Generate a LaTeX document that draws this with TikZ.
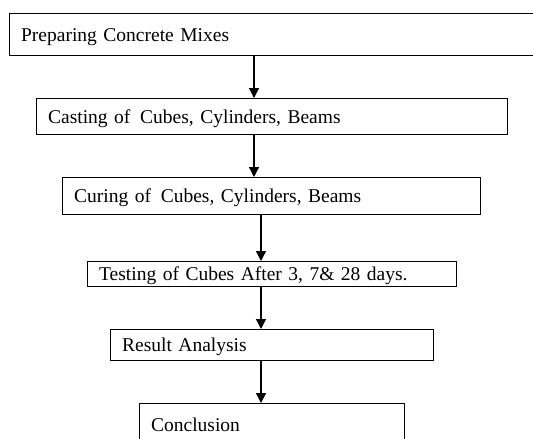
\documentclass[tikz,border=0pt]{standalone}
\usepackage{fontspec}
\setmainfont{Liberation Serif}
\usetikzlibrary{arrows.meta}
\begin{document}
\begin{tikzpicture}[x=1pt,y=-1pt,
  stepbox/.style={draw, line width=1.3pt, anchor=north west, inner xsep=11.5pt, inner ysep=0pt,
    align=left, font=\fontsize{19.5}{22}\selectfont, text height=15pt, text depth=2pt},
  arr/.style={line width=1.3pt, -{Triangle[length=10pt,width=10pt]}}]
\path[use as bounding box, clip] (0,0) rectangle (533,439);
\node[stepbox, minimum width=600pt, minimum height=42pt, text width=577pt] (b1) at (9,13) {Preparing Concrete Mixes};
\node[stepbox, minimum width=471pt, minimum height=36pt, text width=448pt] (b2) at (36,98) {Casting of\, Cubes, Cylinders, Beams};
\node[stepbox, minimum width=418pt, minimum height=37pt, text width=395pt] (b3) at (62,177) {Curing of\, Cubes, Cylinders, Beams};
\node[stepbox, minimum width=369pt, minimum height=25pt, text width=346pt] (b4) at (87,261) {Testing of Cubes After 3, 7\& 28 days.};
\node[stepbox, minimum width=323pt, minimum height=31pt, text width=300pt] (b5) at (110,329) {Result Analysis};
\node[stepbox, minimum width=265pt, minimum height=43pt, text width=242pt] (b6) at (139,403) {Conclusion};
\coordinate (xa) at (254,0);
\coordinate (xb) at (261,0);
\draw[arr] (xa |- b1.south) -- (xa |- b2.north);
\draw[arr] (xa |- b2.south) -- (xa |- b3.north);
\draw[arr] (xb |- b3.south) -- (xb |- b4.north);
\draw[arr] (xb |- b4.south) -- (xb |- b5.north);
\draw[arr] (xb |- b5.south) -- (xb |- b6.north);
\end{tikzpicture}
\end{document}
